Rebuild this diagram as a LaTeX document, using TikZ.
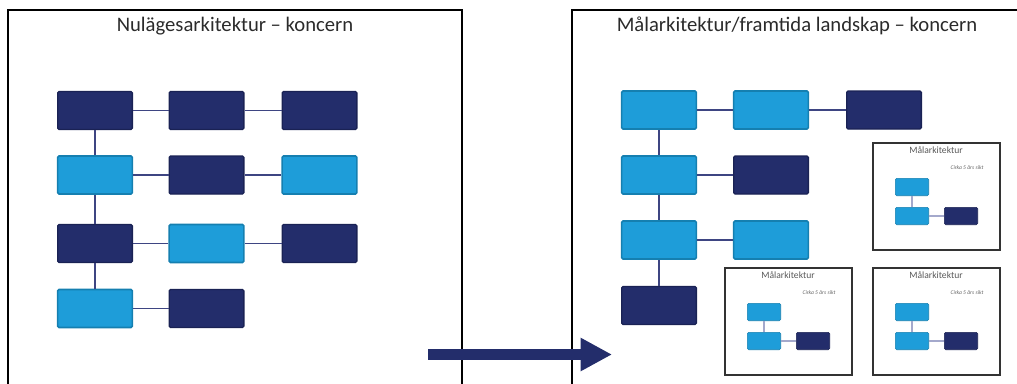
\documentclass[tikz,border=0pt]{standalone}
\usepackage{fontspec}
\setmainfont{Carlito}
\usepackage{tikz}
\usetikzlibrary{positioning, arrows.meta}
\definecolor{navy}{HTML}{232D6B}
\definecolor{navyline}{HTML}{1A2254}
\definecolor{sky}{HTML}{1E9DD9}
\definecolor{skyline}{HTML}{157FB0}
\definecolor{linkcol}{HTML}{3E4582}
\definecolor{smalllink}{HTML}{A4A9CC}
\definecolor{textgray}{HTML}{2B2B2B}

\begin{document}
\begin{tikzpicture}[x=0.75pt, y=-0.75pt,
	darkbox/.style={draw=navyline, fill=navy, line width=1pt, rounded corners=1pt,
		minimum width=56pt, minimum height=28.5pt, inner sep=0pt},
	lightbox/.style={draw=skyline, fill=sky, line width=1.2pt, rounded corners=1pt,
		minimum width=56pt, minimum height=28.5pt, inner sep=0pt},
	smalldark/.style={darkbox, minimum width=25pt, minimum height=13pt, line width=0.5pt},
	smalllight/.style={lightbox, minimum width=25pt, minimum height=13pt, line width=0.5pt},
	link/.style={draw=linkcol, line width=1pt},
	slink/.style={draw=smalllink, line width=0.9pt},
	frame/.style={draw=black, line width=1.6pt},
	subframe/.style={draw=black!80, line width=1pt},
	heading/.style={text=textgray, font=\fontsize{15.5}{18}\selectfont},
	subheading/.style={text=black!65, font=\fontsize{7.2}{8}\selectfont},
	horizon/.style={text=black!60, font=\fontsize{4.2}{5}\selectfont\itshape}]
	\useasboundingbox (0,0) rectangle (1017,383);
	% Frames
	\draw[frame] (8,395) -- (8,10) -- (462,10) -- (462,395);
	\draw[frame] (572,395) -- (572,10) -- (1030,10);
	\node[heading] (titleL) at (235,26) {Nulägesarkitektur -- koncern};
	\node[heading] (titleR) at (797,26) {Målarkitektur/framtida landskap -- koncern};
	% Current architecture
	\node[darkbox] (l11) at (95,110.5) {};
	\node[darkbox] (l12) at (206.5,110.5) {};
	\node[darkbox] (l13) at (319.5,110.5) {};
	\node[lightbox] (l21) at (95,175) {};
	\node[darkbox] (l22) at (206.5,175) {};
	\node[lightbox] (l23) at (319.5,175) {};
	\node[darkbox] (l31) at (95,243.5) {};
	\node[lightbox] (l32) at (206.5,243.5) {};
	\node[darkbox] (l33) at (319.5,243.5) {};
	\node[lightbox] (l41) at (95,308.5) {};
	\node[darkbox] (l42) at (206.5,308.5) {};
	\draw[link] (l11.east) -- (l12.west) (l12.east) -- (l13.west);
	\draw[link] (l21.east) -- (l22.west) (l22.east) -- (l23.west);
	\draw[link] (l31.east) -- (l32.west) (l32.east) -- (l33.west);
	\draw[link] (l41.east) -- (l42.west);
	\draw[link] (l11.south) -- (l21.north) (l21.south) -- (l31.north) (l31.south) -- (l41.north);
	% Target architecture
	\node[lightbox] (r11) at (659,110) {};
	\node[lightbox] (r12) at (771,110) {};
	\node[darkbox] (r13) at (884,110) {};
	\node[lightbox] (r21) at (659,175) {};
	\node[darkbox] (r22) at (771,175) {};
	\node[lightbox] (r31) at (659,240) {};
	\node[lightbox] (r32) at (771,240) {};
	\node[darkbox] (r41) at (659,305.5) {};
	\draw[link] (r11.east) -- (r12.west) (r12.east) -- (r13.west);
	\draw[link] (r21.east) -- (r22.west);
	\draw[link] (r31.east) -- (r32.west);
	\draw[link] (r11.south) -- (r21.north) (r21.south) -- (r31.north) (r31.south) -- (r41.north);
	% Sub-architectures
	\foreach \fx/\fy/\n in {873/143/a, 725/268/b, 873/268/c} {
		\draw[subframe] (\fx,\fy) rectangle ++(127,107);
		\node[subheading] (t\n) at (\fx+63,\fy+7) {Målarkitektur};
		\node[horizon] (h\n) at (\fx+94,\fy+25) {Cirka 5 års sikt};
		\node[smalllight] (\n1) at (\fx+39,\fy+44) {};
		\node[smalllight] (\n2) at (\fx+39,\fy+73) {};
		\node[smalldark] (\n3) at (\fx+88,\fy+73) {};
		\draw[slink] (\n1.south) -- (\n2.north);
		\draw[slink] (\n2.east) -- (\n3.west);
	}
	% Arrow
	\coordinate (from) at (428,354.5);
	\coordinate (to) at (612,354.5);
	\draw[navy, line width=8.25pt, -{Triangle[length=23.5pt, width=23.5pt]}] (from) -- (to);
\end{tikzpicture}
\end{document}
